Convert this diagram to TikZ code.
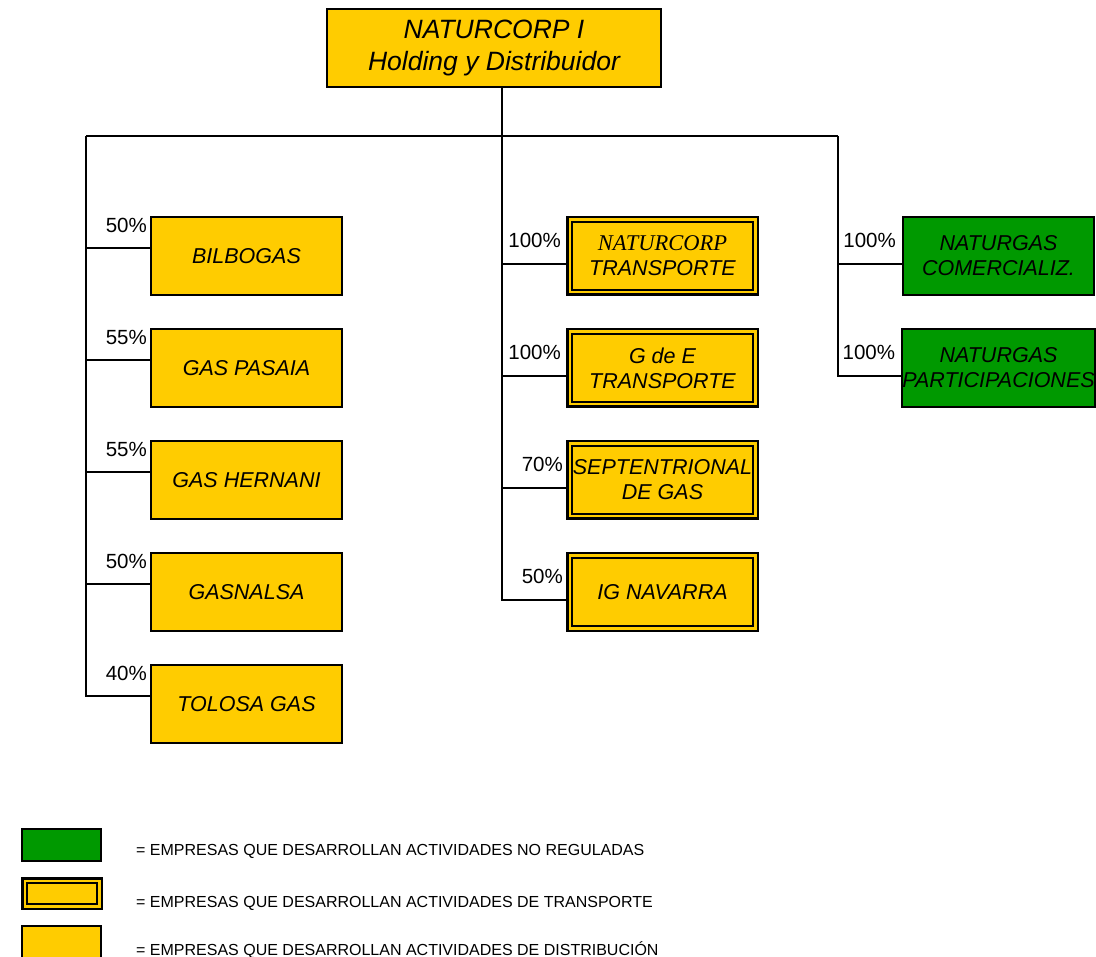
\documentclass[tikz,border=0pt]{standalone}
\usepackage{fontspec}
\setmainfont{Liberation Sans}
\newfontfamily\serifface{Liberation Serif}
\usetikzlibrary{calc}
\definecolor{orgyellow}{HTML}{FFCC00}
\definecolor{orggreen}{HTML}{009900}

\begin{document}
\begin{tikzpicture}[x=1pt,y=-1pt,
	company/.style={draw, line width=2pt, fill=orgyellow, minimum width=191pt, minimum height=78pt,
		inner sep=0pt, align=center, font=\fontsize{21.5}{25}\selectfont\itshape},
	transport/.style={company, double=orgyellow, line width=2.5pt, double distance=2.3pt,
		minimum width=185.7pt, minimum height=72.7pt, outer sep=3.65pt},
	trading/.style={company, fill=orggreen},
	share/.style={anchor=east, inner sep=0pt, font=\fontsize{20.5}{24}\selectfont},
	key/.style={anchor=base west, inner sep=0pt, font=\fontsize{16}{19}\selectfont},
	wire/.style={line width=1.8pt}]
	\useasboundingbox (0,0) rectangle (1096,957);

	% holding
	\node[company, minimum width=334pt, font=\fontsize{26.5}{32}\selectfont\itshape] (holding) at (494,48)
		{NATURCORP I\\Holding y Distribuidor};

	% distribution companies
	\node[company] (bilbogas) at (246.5,256) {BILBOGAS};
	\node[company] (pasaia) at (246.5,368) {GAS PASAIA};
	\node[company] (hernani) at (246.5,480) {GAS HERNANI};
	\node[company] (gasnalsa) at (246.5,592) {GASNALSA};
	\node[company] (tolosa) at (246.5,704) {TOLOSA GAS};

	% transport companies
	\node[transport] (ntransporte) at (662.5,256)
		{{\serifface\fontsize{22.5}{25}\selectfont\itshape NATURCORP}\\TRANSPORTE};
	\node[transport] (gdee) at (662.5,368) {G de E\\TRANSPORTE};
	\node[transport] (septentrional) at (662.5,480) {SEPTENTRIONAL\\DE GAS};
	\node[transport] (ignavarra) at (662.5,592) {IG NAVARRA};

	% non-regulated companies
	\node[trading] (comercializ) at (998.5,256) {NATURGAS\\COMERCIALIZ.};
	\node[trading] (participaciones) at (998.5,368) {NATURGAS\\PARTICIPACIONES};

	% trunk lines
	\coordinate (hub) at (502,136);
	\coordinate (westend) at (86,136);
	\coordinate (eastend) at (838,136);
	\draw[wire] (hub |- holding.south) -- (hub);
	\draw[wire] (westend) -- (eastend);

	\coordinate (jbilbogas) at ($(bilbogas.west)+(0,-8)$);
	\coordinate (jpasaia) at ($(pasaia.west)+(0,-8)$);
	\coordinate (jhernani) at ($(hernani.west)+(0,-8)$);
	\coordinate (jgasnalsa) at ($(gasnalsa.west)+(0,-8)$);
	\coordinate (jtolosa) at ($(tolosa.west)+(0,-8)$);
	\draw[wire] (westend) |- (jtolosa);
	\draw[wire] (jbilbogas) -- (westend |- jbilbogas);
	\draw[wire] (jpasaia) -- (westend |- jpasaia);
	\draw[wire] (jhernani) -- (westend |- jhernani);
	\draw[wire] (jgasnalsa) -- (westend |- jgasnalsa);

	\coordinate (jntransporte) at ($(ntransporte.west)+(0,8)$);
	\coordinate (jgdee) at ($(gdee.west)+(0,8)$);
	\coordinate (jseptentrional) at ($(septentrional.west)+(0,8)$);
	\coordinate (jignavarra) at ($(ignavarra.west)+(0,8)$);
	\draw[wire] (hub) |- (jignavarra);
	\draw[wire] (jntransporte) -- (hub |- jntransporte);
	\draw[wire] (jgdee) -- (hub |- jgdee);
	\draw[wire] (jseptentrional) -- (hub |- jseptentrional);

	\coordinate (jcomercializ) at ($(comercializ.west)+(0,8)$);
	\coordinate (jparticipaciones) at ($(participaciones.west)+(0,8)$);
	\draw[wire] (eastend) |- (jparticipaciones);
	\draw[wire] (jcomercializ) -- (eastend |- jcomercializ);

	% shares
	\node[share] (sbilbogas) at ($(bilbogas.north west)+(-3,9)$) {50\%};
	\node[share] (spasaia) at ($(pasaia.north west)+(-3,9)$) {55\%};
	\node[share] (shernani) at ($(hernani.north west)+(-3,9)$) {55\%};
	\node[share] (sgasnalsa) at ($(gasnalsa.north west)+(-3,9)$) {50\%};
	\node[share] (stolosa) at ($(tolosa.north west)+(-3,9)$) {40\%};
	\node[share] (sntransporte) at ($(ntransporte.north west)+(-5,24)$) {100\%};
	\node[share] (sgdee) at ($(gdee.north west)+(-5,24)$) {100\%};
	\node[share] (sseptentrional) at ($(septentrional.north west)+(-3,24)$) {70\%};
	\node[share] (signavarra) at ($(ignavarra.north west)+(-3,24)$) {50\%};
	\node[share] (scomercializ) at ($(comercializ.north west)+(-6,24)$) {100\%};
	\node[share] (sparticipaciones) at ($(participaciones.north west)+(-6,24)$) {100\%};

	% legend
	\node[trading, minimum width=79pt, minimum height=32pt] (keygreen) at (61.5,845) {};
	\node[transport, minimum width=74.7pt, minimum height=25.7pt] (keytransport) at (62,893.5) {};
	\node[company, minimum width=79pt, minimum height=32pt] (keyyellow) at (61.5,942) {};
	\node[key] (textgreen) at (136,855) {= EMPRESAS QUE DESARROLLAN ACTIVIDADES NO REGULADAS};
	\node[key] (texttransport) at (136,907) {= EMPRESAS QUE DESARROLLAN ACTIVIDADES DE TRANSPORTE};
	\node[key] (textyellow) at (136,955) {= EMPRESAS QUE DESARROLLAN ACTIVIDADES DE DISTRIBUCIÓN};
\end{tikzpicture}
\end{document}
